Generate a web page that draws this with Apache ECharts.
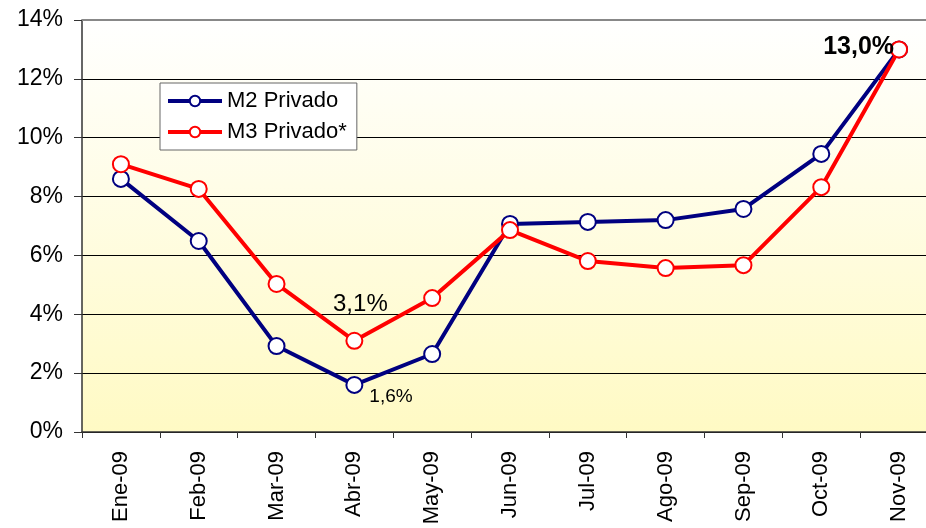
<!DOCTYPE html>
<html><head><meta charset="utf-8">
<script src="https://cdn.jsdelivr.net/npm/echarts@6/dist/echarts.min.js"></script>
<style>html,body{margin:0;padding:0;background:#fff;overflow:hidden;width:926px;height:528px}#c{width:940px;height:528px}</style>
</head><body><div id="c"></div>
<script>
const categories = ['Ene-09','Feb-09','Mar-09','Abr-09','May-09','Jun-09','Jul-09','Ago-09','Sep-09','Oct-09','Nov-09'];
const m2Values = [8.6, 6.49, 2.92, 1.6, 2.65, 7.07, 7.14, 7.2, 7.58, 9.45, 13.0];
const m3Values = [9.1, 8.26, 5.03, 3.1, 4.55, 6.86, 5.81, 5.57, 5.67, 8.32, 13.0];
const yTicks = [0, 2, 4, 6, 8, 10, 12, 14];

const font = 'Liberation Sans, Arial, sans-serif';
const chart = echarts.init(document.getElementById('c'), null, {renderer:'canvas'});

function labeled(values, label) {
  return values.map((v, i) => {
    const o = {value: v};
    if (label[i]) o.label = label[i];
    return o;
  });
}

const m2Labels = {};
m2Labels[3] = {show: true, position: 'right', offset: [1, 12], formatter: '1,6%', fontSize: 19, color: '#000', fontFamily: font};
const m3Labels = {};
m3Labels[3] = {show: true, position: 'top', offset: [6, -10], formatter: '3,1%', fontSize: 24, color: '#000', fontFamily: font};
m3Labels[10] = {show: true, position: 'left', offset: [9, -2], formatter: '13,0%', fontSize: 25, fontWeight: 'bold', color: '#000', fontFamily: font};

chart.setOption({
  animation: false,
  textStyle: {fontFamily: font},
  grid: {left: 82, top: 20, width: 856, height: 412, containLabel: false, show: true,
    backgroundColor: new echarts.graphic.LinearGradient(0, 0, 0, 1, [
      {offset: 0, color: '#FFFFFF'}, {offset: 1, color: '#FFFAC4'}]),
    borderColor: '#888', borderWidth: 0},
  legend: {
    left: 160, top: 83, orient: 'vertical', backgroundColor: '#fff',
    borderColor: '#666', borderWidth: 1, padding: [7, 10, 7, 6], itemGap: 9,
    itemWidth: 54, itemHeight: 13,
    lineStyle: {width: 4},
    textStyle: {fontSize: 22, color: '#000', fontFamily: font},
    data: ['M2 Privado', 'M3 Privado*']
  },
  xAxis: {
    type: 'category', data: categories, boundaryGap: true,
    axisLine: {lineStyle: {color: '#333', width: 1.5}},
    axisTick: {show: true, length: 6, interval: 0, lineStyle: {color: '#333'}},
    axisLabel: {rotate: 90, interval: 0, fontSize: 22, color: '#000', margin: 19, fontFamily: font}
  },
  yAxis: {
    type: 'value', min: 0, max: 14, interval: 2,
    axisLine: {show: true, lineStyle: {color: '#333', width: 1.5}},
    axisTick: {show: true, length: 8, lineStyle: {color: '#333'}},
    axisLabel: {fontSize: 23, color: '#000', margin: 19, formatter: v => yTicks.includes(v) ? v + '%' : '', fontFamily: font},
    splitLine: {show: true, lineStyle: {color: '#000', width: 1}}
  },
  graphic: [{type: 'line', shape: {x1: 82, y1: 20, x2: 940, y2: 20}, style: {stroke: '#888', lineWidth: 2}, z: 10}],
  series: [
    {name: 'M2 Privado', type: 'line', data: labeled(m2Values, m2Labels),
     lineStyle: {color: '#000080', width: 4}, itemStyle: {color: '#fff', borderColor: '#000080', borderWidth: 2},
     symbol: 'circle', symbolSize: 16, z: 3},
    {name: 'M3 Privado*', type: 'line', data: labeled(m3Values, m3Labels),
     lineStyle: {color: '#FF0000', width: 4}, itemStyle: {color: '#fff', borderColor: '#FF0000', borderWidth: 2},
     symbol: 'circle', symbolSize: 16, z: 4}
  ]
});
</script></body></html>
